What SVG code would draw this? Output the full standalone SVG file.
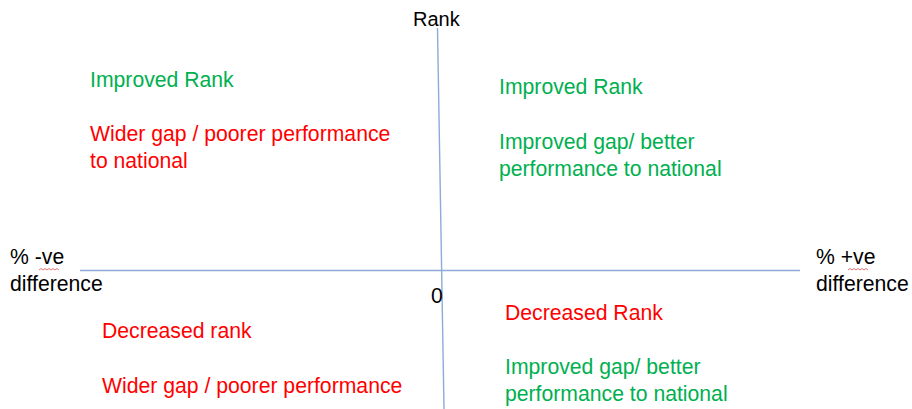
<svg xmlns="http://www.w3.org/2000/svg" width="912" height="409" viewBox="0 0 912 409">
<style>
text{font-family:"Liberation Sans",Arial,sans-serif;font-size:21.2px}
.g{fill:#00b050}
.r{fill:#ff0000}
.k{fill:#000}
.axis{stroke:#8eaadb;stroke-width:1.4;fill:none}
.sq{stroke:#e05050;stroke-width:0.8;fill:none}
</style>
<rect width="912" height="409" fill="#fff"/>
<g id="axes">
<line class="axis" x1="80" y1="270.5" x2="800" y2="270.5"/>
<line class="axis" x1="437.5" y1="28" x2="444" y2="409"/>
</g>
<g id="label-rank"><text class="k" x="413" y="26" style="font-size:20px">Rank</text></g>
<g id="label-zero"><text class="k" x="431" y="303">0</text></g>
<g id="label-neg">
<text class="k" x="10" y="264">% -ve</text>
<text class="k" x="10" y="291">difference</text>
<path class="sq" d="M39 270 l2 -1.5 l2 1.5 l2 -1.5 l2 1.5 l2 -1.5 l2 1.5 l2 -1.5 l2 1.5 l2 -1.5 l2 1.5"/>
</g>
<g id="label-pos">
<text class="k" x="816" y="264">% +ve</text>
<text class="k" x="816" y="291">difference</text>
<path class="sq" d="M848 270 l2 -1.5 l2 1.5 l2 -1.5 l2 1.5 l2 -1.5 l2 1.5 l2 -1.5 l2 1.5 l2 -1.5 l2 1.5"/>
</g>
<g id="q-top-left">
<text class="g" x="90" y="87">Improved Rank</text>
<text class="r" x="90" y="141">Wider gap / poorer performance</text>
<text class="r" x="90" y="168">to national</text>
</g>
<g id="q-top-right">
<text class="g" x="499" y="94">Improved Rank</text>
<text class="g" x="499" y="149">Improved gap/ better</text>
<text class="g" x="499" y="176">performance to national</text>
</g>
<g id="q-bottom-left">
<text class="r" x="102" y="338">Decreased rank</text>
<text class="r" x="102" y="393">Wider gap / poorer performance</text>
</g>
<g id="q-bottom-right">
<text class="r" x="505" y="320">Decreased Rank</text>
<text class="g" x="505" y="374">Improved gap/ better</text>
<text class="g" x="505" y="401">performance to national</text>
</g>
</svg>
